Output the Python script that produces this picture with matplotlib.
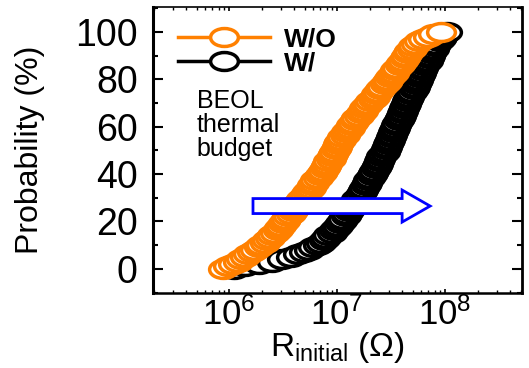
import numpy as np
import matplotlib
matplotlib.use('Agg')
import matplotlib.pyplot as plt
from matplotlib.path import Path
from matplotlib.transforms import Affine2D
from matplotlib.lines import Line2D
from matplotlib.patches import FancyArrow
from matplotlib.ticker import MultipleLocator

plt.rcParams['font.family'] = ['Liberation Sans', 'DejaVu Sans']
plt.rcParams['mathtext.fontset'] = 'custom'
plt.rcParams['mathtext.rm'] = 'Liberation Sans'
plt.rcParams['mathtext.it'] = 'Liberation Sans:italic'
plt.rcParams['mathtext.bf'] = 'Liberation Sans:bold'

# cumulative probability (%) of each sorted device
prob = [0.0, 1.0, 2.0, 3.0, 4.0, 5.1, 6.1, 7.1, 8.1, 9.1,
        10.1, 11.1, 12.1, 13.1, 14.1, 15.2, 16.2, 17.2, 18.2, 19.2,
        20.2, 21.2, 22.2, 23.2, 24.2, 25.3, 26.3, 27.3, 28.3, 29.3,
        30.3, 31.3, 32.3, 33.3, 34.3, 35.4, 36.4, 37.4, 38.4, 39.4,
        40.4, 41.4, 42.4, 43.4, 44.4, 45.5, 46.5, 47.5, 48.5, 49.5,
        50.5, 51.5, 52.5, 53.5, 54.5, 55.6, 56.6, 57.6, 58.6, 59.6,
        60.6, 61.6, 62.6, 63.6, 64.6, 65.7, 66.7, 67.7, 68.7, 69.7,
        70.7, 71.7, 72.7, 73.7, 74.7, 75.8, 76.8, 77.8, 78.8, 79.8,
        80.8, 81.8, 82.8, 83.8, 84.8, 85.9, 86.9, 87.9, 88.9, 89.9,
        90.9, 91.9, 92.9, 93.9, 94.9, 96.0, 97.0, 98.0, 99.0, 100.0]

# log10(R_initial / ohm)
logr_wo = [5.94, 5.99, 6.04, 6.08, 6.11, 6.15, 6.18, 6.21, 6.24, 6.28,
           6.30, 6.33, 6.35, 6.38, 6.40, 6.43, 6.45, 6.46, 6.48, 6.50,
           6.52, 6.53, 6.55, 6.57, 6.59, 6.60, 6.62, 6.63, 6.65, 6.67,
           6.69, 6.70, 6.72, 6.74, 6.76, 6.77, 6.79, 6.80, 6.82, 6.84,
           6.86, 6.87, 6.89, 6.90, 6.91, 6.92, 6.94, 6.95, 6.96, 6.97,
           6.99, 7.00, 7.01, 7.02, 7.04, 7.05, 7.07, 7.08, 7.10, 7.12,
           7.13, 7.15, 7.17, 7.18, 7.20, 7.22, 7.24, 7.25, 7.27, 7.29,
           7.31, 7.33, 7.35, 7.36, 7.38, 7.40, 7.42, 7.44, 7.46, 7.47,
           7.49, 7.51, 7.53, 7.54, 7.56, 7.58, 7.59, 7.61, 7.63, 7.64,
           7.66, 7.67, 7.69, 7.70, 7.73, 7.76, 7.80, 7.84, 7.89, 7.96]
logr_w = [6.05, 6.15, 6.28, 6.40, 6.49, 6.57, 6.64, 6.69, 6.74, 6.78,
          6.82, 6.85, 6.88, 6.90, 6.92, 6.95, 6.97, 6.99, 7.01, 7.03,
          7.05, 7.06, 7.08, 7.09, 7.11, 7.12, 7.14, 7.15, 7.17, 7.18,
          7.20, 7.21, 7.23, 7.24, 7.25, 7.27, 7.28, 7.29, 7.31, 7.32,
          7.33, 7.34, 7.36, 7.37, 7.38, 7.39, 7.40, 7.41, 7.43, 7.44,
          7.45, 7.46, 7.47, 7.48, 7.49, 7.50, 7.51, 7.52, 7.53, 7.54,
          7.55, 7.56, 7.57, 7.58, 7.59, 7.60, 7.61, 7.62, 7.63, 7.64,
          7.65, 7.66, 7.67, 7.68, 7.69, 7.71, 7.72, 7.73, 7.74, 7.75,
          7.76, 7.77, 7.78, 7.79, 7.80, 7.81, 7.82, 7.84, 7.85, 7.86,
          7.87, 7.88, 7.90, 7.91, 7.92, 7.94, 7.96, 7.97, 7.99, 8.02]

labels = ['W/O', 'W/']
colors = ['#ff8000', 'black']

# open circles look stretched sideways in the original slide
ell = Affine2D().scale(1.55, 1.0).transform_path(Path.unit_circle())
mk = dict(marker=ell, ms=20, mfc='white', mew=2.5)

fig = plt.figure(figsize=(5.29, 3.68), dpi=100)
ax = fig.add_axes([0.2892, 0.2038, 0.6976, 0.7772])

# black first so orange sits on top
ax.plot(10 ** np.array(logr_w), prob, ls='none', mec=colors[1], **mk)
ax.plot(10 ** np.array(logr_wo), prob, ls='none', mec=colors[0], **mk)

ax.set_xscale('log')
ax.set_xlim(10 ** 5.296, 10 ** 8.713)
ax.set_ylim(-10.2, 110.5)
ax.set_yticks([0, 20, 40, 60, 80, 100])
ax.yaxis.set_minor_locator(MultipleLocator(10))

ax.tick_params(which='both', direction='in', top=True, right=True, colors='black')
ax.tick_params(axis='y', which='major', length=7.5, width=1.5, labelsize=27, pad=11)
ax.tick_params(axis='y', which='minor', length=3.8, width=1.5)
ax.tick_params(axis='x', which='major', length=3, width=1.2, labelsize=25, pad=3)
ax.tick_params(axis='x', which='minor', length=2, width=1.0)
ax.tick_params(axis='x', which='minor', labelbottom=False)

ax.spines['left'].set_linewidth(2.2)
ax.spines['right'].set_linewidth(2.0)
ax.spines['bottom'].set_linewidth(1.8)
ax.spines['top'].set_linewidth(1.2)

ax.set_ylabel('Probability (%)', fontsize=23, labelpad=22)
ax.set_xlabel(r'R$_{\mathregular{initial}}$ (Ω)', fontsize=24, labelpad=-1)

handles = [Line2D([], [], color=c, lw=2.5, mec=c, **mk) for c in colors]
ax.legend(handles, labels, loc='upper left', bbox_to_anchor=(0.068, 0.93),
          frameon=False, borderpad=0, borderaxespad=0, handlelength=3.5,
          handletextpad=0.5, labelspacing=0.02, numpoints=1,
          prop={'weight': 'bold', 'size': 19})

ax.text(0.119, 0.715, 'BEOL\nthermal\nbudget', transform=ax.transAxes,
        fontsize=18, va='top', ha='left', linespacing=1.0)

ax.add_patch(FancyArrow(0.271, 0.304, 0.48, 0, width=0.0524, head_width=0.112,
                        head_length=0.0759, length_includes_head=True,
                        transform=ax.transAxes, fc='white', ec='#0000ff',
                        lw=2.0, zorder=5))

fig.savefig('out.png', dpi=100)
